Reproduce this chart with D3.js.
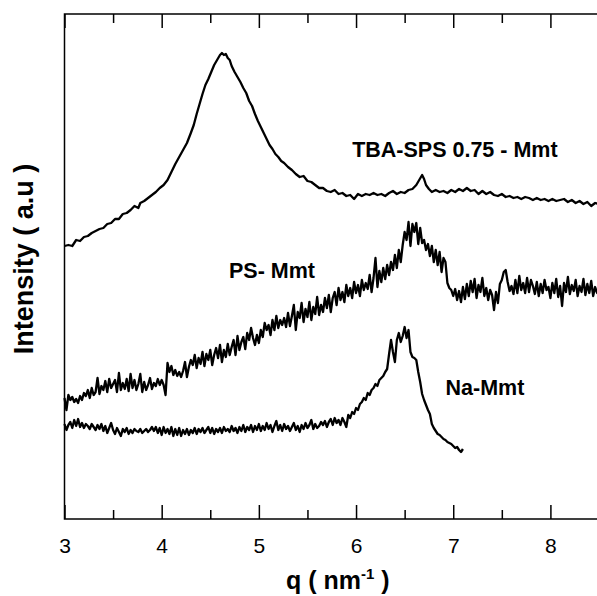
<!DOCTYPE html>
<html>
<head>
<meta charset="utf-8">
<script src="https://cdn.jsdelivr.net/npm/d3@7.9.0/dist/d3.min.js"></script>
<style>
  html, body { margin: 0; padding: 0; background: #fff; }
  svg { display: block; font-family: "Liberation Sans", Arial, sans-serif; }
</style>
</head>
<body>
<svg id="chart" width="597" height="596"></svg>
<script>
// q (nm^-1), intensity (a.u., offset curves as in the figure)
const tbaSps = [
  [3.00,273],[3.04,274],[3.08,273],[3.12,279],[3.16,278],[3.20,282],[3.24,283],[3.28,286],[3.32,288],[3.36,290],
  [3.40,291],[3.44,295],[3.48,296],[3.52,300],[3.56,300],[3.60,305],[3.64,306],[3.68,309],[3.72,313],[3.76,311],
  [3.78,316],[3.82,318],[3.86,321],[3.90,324],[3.94,327],[3.98,331],[4.02,334],[4.06,339],[4.10,347],[4.14,355],
  [4.18,362],[4.22,369],[4.26,376],[4.30,386],[4.33,394],[4.36,405],[4.39,415],[4.42,425],[4.45,434],[4.48,440],
  [4.51,447],[4.54,454],[4.57,459],[4.60,464],[4.62,466],[4.64,464],[4.66,465],[4.68,461],[4.70,459],[4.72,453],
  [4.75,447],[4.78,442],[4.81,437],[4.84,431],[4.87,426],[4.90,418],[4.93,413],[4.96,405],[4.99,398],[5.02,392],
  [5.05,386],[5.08,380],[5.11,374],[5.14,370],[5.17,365],[5.20,362],[5.23,358],[5.26,356],[5.30,352],[5.34,349],
  [5.38,345],[5.42,342],[5.46,343],[5.50,338],[5.54,337],[5.58,334],[5.62,331],[5.66,331],[5.70,328],[5.74,327],
  [5.78,329],[5.82,325],[5.86,326],[5.90,323],[5.94,324],[5.98,320],[6.02,325],[6.06,323],[6.10,325],[6.14,324],
  [6.18,326],[6.22,324],[6.26,325],[6.30,323],[6.34,326],[6.38,328],[6.42,325],[6.46,327],[6.50,326],[6.54,329],
  [6.58,330],[6.62,334],[6.65,339],[6.68,344],[6.70,340],[6.72,334],[6.75,330],[6.78,327],[6.82,329],[6.86,327],
  [6.90,328],[6.94,326],[6.98,329],[7.02,327],[7.06,330],[7.10,328],[7.14,331],[7.18,328],[7.22,329],[7.26,325],
  [7.30,328],[7.34,325],[7.38,327],[7.42,324],[7.46,323],[7.50,325],[7.54,322],[7.58,323],[7.62,321],[7.66,322],
  [7.70,320],[7.74,322],[7.78,321],[7.82,319],[7.86,321],[7.90,319],[7.94,320],[7.98,318],[8.02,320],[8.06,318],
  [8.10,319],[8.14,320],[8.18,317],[8.22,319],[8.26,316],[8.30,318],[8.34,315],[8.38,317],[8.42,313],[8.46,316],
  [8.50,315]
];

const psMmt = [
  [3.00,121],[3.02,109],[3.04,124],[3.06,119],[3.08,122],[3.10,117],[3.12,120],[3.14,116],[3.16,123],[3.18,119],
  [3.20,126],[3.22,123],[3.24,129],[3.26,121],[3.28,131],[3.30,124],[3.32,127],[3.34,141],[3.36,125],[3.38,133],
  [3.40,129],[3.42,138],[3.44,127],[3.46,140],[3.48,131],[3.50,135],[3.52,139],[3.54,127],[3.56,146],[3.58,129],
  [3.60,136],[3.62,130],[3.64,140],[3.66,128],[3.68,145],[3.70,131],[3.72,139],[3.74,129],[3.76,135],[3.78,145],
  [3.80,127],[3.82,137],[3.84,129],[3.86,134],[3.88,141],[3.90,130],[3.92,136],[3.94,133],[3.96,140],[3.98,134],
  [4.00,139],[4.02,134],[4.04,124],[4.06,156],[4.08,147],[4.10,153],[4.12,144],[4.14,149],[4.16,143],[4.18,147],
  [4.20,142],[4.22,148],[4.24,157],[4.26,142],[4.28,152],[4.30,159],[4.32,154],[4.34,164],[4.36,151],[4.38,161],
  [4.40,155],[4.42,167],[4.44,153],[4.46,165],[4.48,159],[4.50,169],[4.52,154],[4.54,164],[4.56,171],[4.58,161],
  [4.60,174],[4.62,157],[4.64,169],[4.66,162],[4.68,175],[4.70,164],[4.72,172],[4.74,179],[4.76,164],[4.78,183],
  [4.80,169],[4.82,177],[4.84,182],[4.86,170],[4.88,186],[4.90,179],[4.92,191],[4.94,181],[4.96,174],[4.98,184],
  [5.00,176],[5.02,189],[5.04,182],[5.06,196],[5.08,189],[5.10,194],[5.12,184],[5.14,199],[5.16,189],[5.18,203],
  [5.20,191],[5.22,199],[5.24,194],[5.26,201],[5.28,192],[5.30,206],[5.32,193],[5.34,203],[5.36,214],[5.38,189],
  [5.40,207],[5.42,201],[5.44,216],[5.46,197],[5.48,210],[5.50,202],[5.52,217],[5.54,199],[5.56,212],[5.58,205],
  [5.60,222],[5.62,204],[5.64,214],[5.66,207],[5.68,221],[5.70,211],[5.72,224],[5.74,207],[5.76,221],[5.78,227],
  [5.80,214],[5.82,231],[5.84,219],[5.86,227],[5.88,217],[5.90,234],[5.92,223],[5.94,231],[5.96,221],[5.98,237],
  [6.00,226],[6.02,234],[6.04,223],[6.06,239],[6.08,229],[6.10,236],[6.12,230],[6.14,244],[6.16,227],[6.18,241],
  [6.20,261],[6.22,232],[6.24,248],[6.26,237],[6.28,251],[6.30,240],[6.32,254],[6.34,244],[6.36,257],[6.38,249],
  [6.40,264],[6.42,251],[6.44,269],[6.46,257],[6.48,274],[6.50,287],[6.52,279],[6.54,297],[6.56,273],[6.58,295],
  [6.60,287],[6.62,296],[6.64,275],[6.66,291],[6.68,276],[6.70,279],[6.72,269],[6.74,275],[6.76,263],[6.78,273],
  [6.80,257],[6.82,269],[6.84,254],[6.86,267],[6.88,247],[6.90,261],[6.92,257],[6.94,236],[6.96,231],[6.98,229],
  [7.00,223],[7.02,230],[7.04,219],[7.06,228],[7.08,217],[7.10,232],[7.12,220],[7.14,235],[7.16,223],[7.18,238],
  [7.20,227],[7.22,240],[7.24,221],[7.26,234],[7.28,227],[7.30,241],[7.32,223],[7.34,231],[7.36,219],[7.38,229],
  [7.40,224],[7.42,209],[7.44,227],[7.46,216],[7.48,235],[7.50,239],[7.52,247],[7.54,249],[7.56,237],[7.58,228],
  [7.60,233],[7.62,225],[7.64,239],[7.66,226],[7.68,243],[7.70,229],[7.72,236],[7.74,226],[7.76,241],[7.78,227],
  [7.80,239],[7.82,233],[7.84,225],[7.86,237],[7.88,223],[7.90,235],[7.92,226],[7.94,239],[7.96,229],[7.98,232],
  [8.00,221],[8.02,236],[8.04,226],[8.06,240],[8.08,222],[8.10,233],[8.12,213],[8.14,236],[8.16,227],[8.18,242],
  [8.20,225],[8.22,234],[8.24,228],[8.26,239],[8.28,223],[8.30,233],[8.32,227],[8.34,240],[8.36,224],[8.38,235],
  [8.40,226],[8.42,238],[8.44,223],[8.46,232],[8.48,226],[8.50,231]
];

const naMmt = [
  [3.00,95],[3.02,89],[3.04,94],[3.06,97],[3.08,91],[3.10,99],[3.12,93],[3.14,100],[3.16,92],[3.18,96],
  [3.20,91],[3.22,95],[3.24,93],[3.26,90],[3.28,95],[3.30,92],[3.32,89],[3.34,94],[3.36,90],[3.38,95],
  [3.40,88],[3.42,93],[3.44,86],[3.46,91],[3.48,96],[3.50,89],[3.52,85],[3.54,91],[3.56,87],[3.58,83],
  [3.60,90],[3.62,87],[3.64,91],[3.66,85],[3.68,89],[3.70,86],[3.72,90],[3.74,88],[3.76,87],[3.78,90],
  [3.80,86],[3.82,88],[3.84,90],[3.86,87],[3.88,89],[3.90,92],[3.92,88],[3.94,92],[3.96,86],[3.98,91],
  [4.00,84],[4.02,92],[4.04,86],[4.06,90],[4.08,85],[4.10,92],[4.12,83],[4.14,90],[4.16,84],[4.18,91],
  [4.20,83],[4.22,89],[4.24,85],[4.26,90],[4.28,84],[4.30,89],[4.32,86],[4.34,91],[4.36,85],[4.38,90],
  [4.40,87],[4.42,91],[4.44,86],[4.46,89],[4.48,92],[4.50,86],[4.52,91],[4.54,85],[4.56,90],[4.58,87],
  [4.60,91],[4.62,86],[4.64,92],[4.66,88],[4.68,90],[4.70,87],[4.72,93],[4.74,88],[4.76,91],[4.78,86],
  [4.80,92],[4.82,88],[4.84,94],[4.86,87],[4.88,92],[4.90,89],[4.92,94],[4.94,87],[4.96,93],[4.98,89],
  [5.00,95],[5.02,88],[5.04,93],[5.06,89],[5.08,96],[5.10,90],[5.12,94],[5.14,87],[5.16,93],[5.18,98],
  [5.20,89],[5.22,94],[5.24,88],[5.26,95],[5.28,90],[5.30,93],[5.32,88],[5.34,92],[5.36,96],[5.38,89],
  [5.40,93],[5.42,87],[5.44,94],[5.46,90],[5.48,96],[5.50,91],[5.52,94],[5.54,99],[5.56,90],[5.58,95],
  [5.60,91],[5.62,93],[5.64,97],[5.66,94],[5.68,98],[5.70,92],[5.72,97],[5.74,100],[5.76,94],[5.78,101],
  [5.80,96],[5.82,99],[5.84,94],[5.86,101],[5.88,97],[5.90,92],[5.92,104],[5.94,101],[5.96,107],[5.98,105],
  [6.00,111],[6.02,109],[6.04,115],[6.06,117],[6.08,121],[6.10,119],[6.12,126],[6.14,124],[6.16,129],[6.18,131],
  [6.20,135],[6.22,133],[6.24,139],[6.26,141],[6.28,143],[6.30,147],[6.32,150],[6.34,165],[6.36,179],[6.38,167],
  [6.40,157],[6.42,179],[6.44,186],[6.46,177],[6.48,183],[6.50,192],[6.52,181],[6.54,189],[6.56,167],[6.58,162],
  [6.60,161],[6.62,159],[6.64,147],[6.66,137],[6.68,125],[6.70,119],[6.72,114],[6.74,109],[6.76,105],[6.78,95],
  [6.80,91],[6.82,88],[6.84,85],[6.86,84],[6.88,82],[6.90,80],[6.92,79],[6.94,77],[6.96,76],[6.98,75],
  [7.00,73],[7.02,71],[7.04,72],[7.06,69],[7.08,67],[7.10,70]
];

const majorTicks = [3, 4, 5, 6, 7, 8];
const minorTicks = [3.5, 4.5, 5.5, 6.5, 7.5, 8.5];

const curveLabels = [
  { text: 'TBA-SPS 0.75 - Mmt', q: 7.017, i: 362 },
  { text: 'PS- Mmt', q: 5.135, i: 241 },
  { text: 'Na-Mmt', q: 7.326, i: 124 }
];

const svg = d3.select('#chart');
const margin = { left: 64.5, top: 14, bottom: 519, right: 599 };

const x = d3.scaleLinear().domain([3, 8.5]).range([margin.left, margin.right]);
const y = d3.scaleLinear().domain([0, 505]).range([margin.bottom, margin.top]);

// frame
svg.append('rect')
  .attr('x', margin.left).attr('y', margin.top)
  .attr('width', margin.right - margin.left).attr('height', margin.bottom - margin.top)
  .attr('fill', 'none').attr('stroke', '#000').attr('stroke-width', 1.5);

function styleAxis(g) {
  g.select('.domain').remove();
  g.selectAll('.tick line').attr('stroke', '#000').attr('stroke-width', 1.5);
}

// bottom axis: major ticks with labels
svg.append('g')
  .attr('transform', `translate(0,${margin.bottom})`)
  .call(d3.axisBottom(x).tickValues(majorTicks).tickSizeInner(-14).tickSizeOuter(0).tickPadding(19).tickFormat(d3.format('d')))
  .call(styleAxis)
  .call(g => g.selectAll('.tick text').attr('font-size', 21).attr('fill', '#000')
    .attr('font-family', '"Liberation Sans", Arial, sans-serif'));

svg.append('g')
  .attr('transform', `translate(0,${margin.bottom})`)
  .call(d3.axisBottom(x).tickValues(minorTicks).tickSizeInner(-9).tickSizeOuter(0).tickFormat(''))
  .call(styleAxis);

// top axis (ticks only)
svg.append('g')
  .attr('transform', `translate(0,${margin.top})`)
  .call(d3.axisTop(x).tickValues(majorTicks).tickSizeInner(-14).tickSizeOuter(0).tickFormat(''))
  .call(styleAxis);

svg.append('g')
  .attr('transform', `translate(0,${margin.top})`)
  .call(d3.axisTop(x).tickValues(minorTicks).tickSizeInner(-9).tickSizeOuter(0).tickFormat(''))
  .call(styleAxis);

// curves
const line = d3.line().x(d => x(d[0])).y(d => y(d[1]));
[tbaSps, psMmt, naMmt].forEach(series => {
  svg.append('path')
    .datum(series)
    .attr('d', line)
    .attr('fill', 'none')
    .attr('stroke', '#000')
    .attr('stroke-width', 2.3)
    .attr('stroke-linejoin', 'round');
});

// curve labels
svg.selectAll('text.curve-label')
  .data(curveLabels)
  .join('text')
  .attr('class', 'curve-label')
  .attr('x', d => x(d.q))
  .attr('y', d => y(d.i))
  .attr('text-anchor', 'middle')
  .attr('font-size', 21.5)
  .attr('font-weight', 'bold')
  .text(d => d.text);

// axis titles
const xTitle = svg.append('text')
  .attr('x', (margin.left + 597) / 2 + 7)
  .attr('y', 589)
  .attr('text-anchor', 'middle')
  .attr('font-size', 25)
  .attr('font-weight', 'bold');
xTitle.append('tspan').text('q ( nm');
xTitle.append('tspan').attr('font-size', 15).attr('dy', -10).text('-1');
xTitle.append('tspan').attr('dy', 10).text(' )');

svg.append('text')
  .attr('transform', `translate(33,259) rotate(-90)`)
  .attr('text-anchor', 'middle')
  .attr('font-size', 27)
  .attr('font-weight', 'bold')
  .text('Intensity ( a.u )');
</script>
</body>
</html>
